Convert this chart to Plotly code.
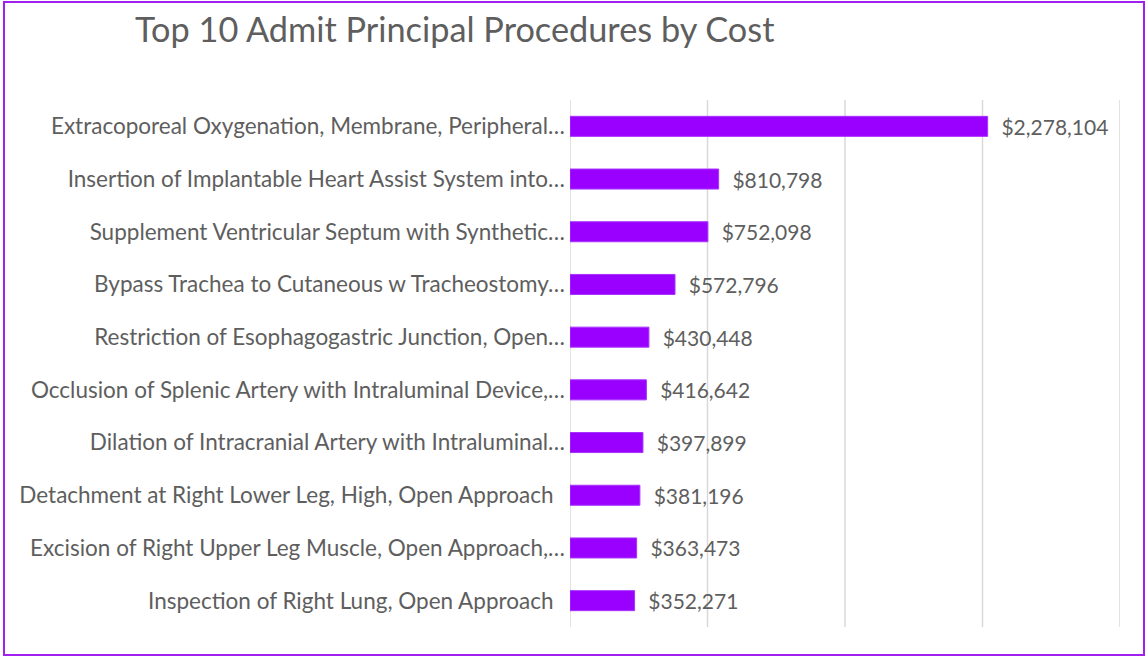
import plotly.graph_objects as go

procedures = [
    "Extracoporeal Oxygenation, Membrane, Peripheral…",
    "Insertion of Implantable Heart Assist System into…",
    "Supplement Ventricular Septum with Synthetic…",
    "Bypass Trachea to Cutaneous w Tracheostomy…",
    "Restriction of Esophagogastric Junction, Open…",
    "Occlusion of Splenic Artery with Intraluminal Device,…",
    "Dilation of Intracranial Artery with Intraluminal…",
    "Detachment at Right Lower Leg, High, Open Approach\u00a0\u00a0",
    "Excision of Right Upper Leg Muscle, Open Approach,…",
    "Inspection of Right Lung, Open Approach\u00a0\u00a0",
]
costs = [2278104, 810798, 752098, 572796, 430448, 416642, 397899, 381196, 363473, 352271]
grid_vals = [0, 750000, 1500000, 2250000, 3000000]

grey = "#5E5E5E"
purple = "#9900FF"
font = "Lato"

fig = go.Figure()
fig.add_trace(go.Bar(
    x=costs,
    y=procedures,
    orientation="h",
    marker=dict(color=purple, line=dict(color="#A733FF", width=1)),
    text=[f"\u00a0\u00a0${c:,}" for c in costs],
    textposition="outside",
    constraintext="none",
    textfont=dict(family=font, color=grey, size=21),
    cliponaxis=False,
))

fig.update_layout(
    width=1147,
    height=657,
    margin=dict(l=570, r=27, t=100, b=30),
    paper_bgcolor="white",
    plot_bgcolor="white",
    font=dict(family=font, color=grey, size=21),
    title=dict(
        text="Top 10 Admit Principal Procedures by Cost",
        x=135 / 1147, xanchor="left",
        y=1 - 30 / 657, yanchor="middle",
        font=dict(family=font, size=34.3, color=grey),
    ),
    bargap=0.62,
    showlegend=False,
)
fig.update_xaxes(
    range=[0, 3000000],
    tickvals=grid_vals,
    showticklabels=False,
    showgrid=False,
    zeroline=False,
    showline=False,
)
fig.update_yaxes(
    autorange="reversed",
    showgrid=False,
    ticks="",
    ticklabelstandoff=4,
    tickfont=dict(family=font, size=22.5, color=grey),
)
# vertical gridlines, including both edges
for g in grid_vals:
    fig.add_shape(
        type="line", xref="x", yref="paper",
        x0=g, x1=g, y0=0, y1=1,
        line=dict(color="#D9D9D9", width=1.5), layer="below",
    )
# purple frame around the whole chart
fig.add_shape(
    type="rect", xref="paper", yref="paper",
    x0=(4 - 570) / 550, x1=(1144 - 570) / 550,
    y0=(627 - 655) / 527, y1=(627 - 2) / 527,
    line=dict(color="#A020F0", width=2),
)

fig.write_html(
    "out.html",
    config={"displayModeBar": False},
    post_script="document.body.style.margin='0';",
)
